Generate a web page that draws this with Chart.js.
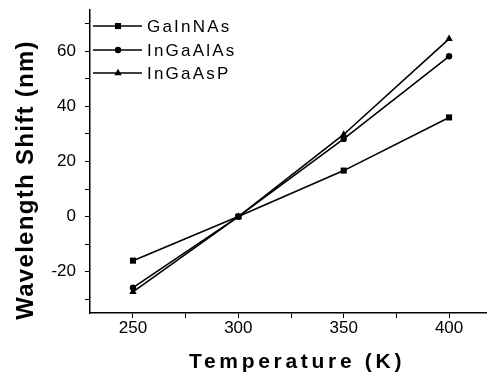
<!DOCTYPE html>
<html>
<head>
<meta charset="utf-8">
<script src="https://cdn.jsdelivr.net/npm/chart.js@4/dist/chart.umd.min.js"></script>
<style>
  html, body { margin: 0; padding: 0; background: #fff; }
  #wrap { width: 487px; height: 377px; }
</style>
</head>
<body>
<div id="wrap"><canvas id="c" width="487" height="377"></canvas></div>
<script>
// ---- data ----
const temperatures = [250, 300, 350, 400];
const gainnas = [-16, 0, 16.7, 36];
const ingaalas = [-25.8, 0, 28.2, 58.2];
const ingaasp = [-27.3, 0, 29.8, 64.5];
const seriesNames = ['GaInNAs', 'InGaAlAs', 'InGaAsP'];
const xTicks = [250, 275, 300, 325, 350, 375, 400];
const xTickLabels = ['250', '', '300', '', '350', '', '400'];
const yTicks = [-30, -20, -10, 0, 10, 20, 30, 40, 50, 60, 70];
const yTickLabels = ['', '-20', '', '0', '', '20', '', '40', '', '60', ''];
const xTitle = 'Temperature (K)';
const yTitle = 'Wavelength Shift (nm)';

const FONT = '"Liberation Sans", Arial, Helvetica, sans-serif';

function pts(ys) { return temperatures.map((t, i) => ({ x: t, y: ys[i] })); }

const styles = [
  { pointStyle: 'rect', pointRadius: 4.3 },
  { pointStyle: 'circle', pointRadius: 3.2 },
  { pointStyle: 'triangle', pointRadius: 4.3 }
];
const values = [gainnas, ingaalas, ingaasp];

const datasets = seriesNames.map((name, i) => ({
  label: name,
  data: pts(values[i]),
  borderColor: '#000',
  backgroundColor: '#000',
  borderWidth: 1.6,
  pointStyle: styles[i].pointStyle,
  pointRadius: styles[i].pointRadius,
  pointBorderWidth: 0,
  pointBackgroundColor: '#000',
  tension: 0
}));

function drawMarker(ctx, style, x, y, r) {
  ctx.beginPath();
  if (style === 'rect') {
    const s = Math.SQRT1_2 * r;
    ctx.rect(x - s, y - s, 2 * s, 2 * s);
  } else if (style === 'circle') {
    ctx.arc(x, y, r, 0, Math.PI * 2);
  } else {
    ctx.moveTo(x, y - r);
    ctx.lineTo(x + Math.sin(2 * Math.PI / 3) * r, y - Math.cos(2 * Math.PI / 3) * r);
    ctx.lineTo(x + Math.sin(4 * Math.PI / 3) * r, y - Math.cos(4 * Math.PI / 3) * r);
    ctx.closePath();
  }
  ctx.fill();
}

const customPlugin = {
  id: 'custom',
  afterDraw(chart) {
    const ctx = chart.ctx;
    ctx.save();
    ctx.fillStyle = '#000';
    ctx.strokeStyle = '#000';
    // legend
    const rows = [26, 50, 73];
    chart.data.datasets.forEach((ds, i) => {
      const y = rows[i];
      ctx.lineWidth = 1.6;
      ctx.beginPath();
      ctx.moveTo(93, y);
      ctx.lineTo(142, y);
      ctx.stroke();
      drawMarker(ctx, ds.pointStyle, 118, y, ds.pointRadius);
      ctx.font = '17px ' + FONT;
      ctx.letterSpacing = '2.2px';
      ctx.textAlign = 'left';
      ctx.textBaseline = 'middle';
      ctx.fillText(ds.label, 147, y + 1);
    });
    // x title
    ctx.font = 'bold 21px ' + FONT;
    ctx.letterSpacing = '3.7px';
    ctx.textAlign = 'center';
    ctx.textBaseline = 'alphabetic';
    ctx.fillText(xTitle, 297, 368);
    // y title
    ctx.translate(33, 180);
    ctx.rotate(-Math.PI / 2);
    ctx.font = 'bold 24px ' + FONT;
    ctx.letterSpacing = '1.3px';
    ctx.fillText(yTitle, 0, 0);
    ctx.restore();
  }
};

new Chart(document.getElementById('c'), {
  type: 'line',
  data: { datasets },
  options: {
    responsive: false,
    animation: false,
    devicePixelRatio: 1,
    layout: { autoPadding: false, padding: { left: 0, top: 10, right: 0, bottom: 0 } },
    plugins: { legend: { display: false }, tooltip: { enabled: false } },
    scales: {
      x: {
        type: 'linear',
        min: 229.6,
        max: 418,
        afterBuildTicks(scale) { scale.ticks = xTicks.map(v => ({ value: v })); },
        afterFit(scale) { scale.height = 64; scale.paddingLeft = 0; scale.paddingRight = 0; },
        grid: { drawOnChartArea: false, drawTicks: true, tickLength: 5, color: '#000', tickWidth: 1 },
        border: { display: true, color: '#000', width: 1.5 },
        ticks: {
          autoSkip: false,
          maxRotation: 0,
          padding: 0,
          color: '#000',
          font: { family: FONT, size: 17 },
          callback(v, i) { return xTickLabels[i]; }
        }
      },
      y: {
        type: 'linear',
        min: -35,
        max: 75,
        afterBuildTicks(scale) { scale.ticks = yTicks.map(v => ({ value: v })); },
        afterFit(scale) { scale.width = 90; scale.paddingTop = 0; scale.paddingBottom = 0; },
        grid: { drawOnChartArea: false, drawTicks: true, tickLength: 5, color: '#000', tickWidth: 1 },
        border: { display: true, color: '#000', width: 1.5 },
        ticks: {
          autoSkip: false,
          padding: 9,
          color: '#000',
          font: { family: FONT, size: 17 },
          callback(v, i) { return yTickLabels[i]; }
        }
      }
    }
  },
  plugins: [customPlugin]
});
</script>
</body>
</html>
